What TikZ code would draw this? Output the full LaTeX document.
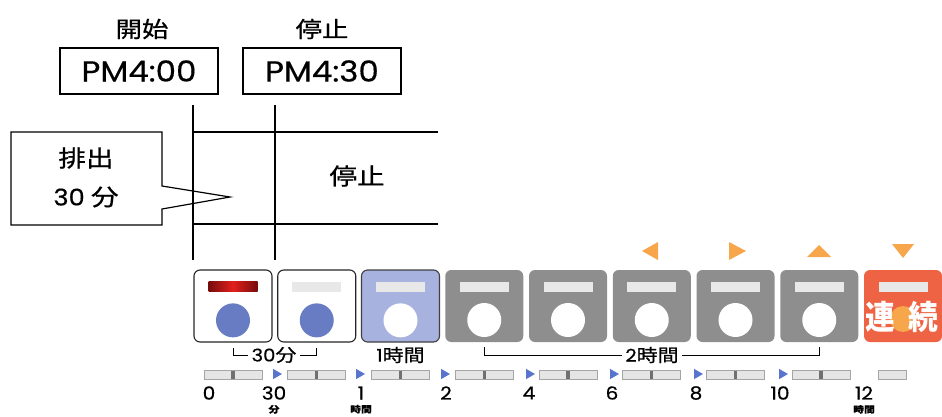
\documentclass[tikz,border=0pt]{standalone}
\usepackage{fontspec}
\setmainfont{Noto Sans CJK JP}[FakeStretch=1.2, FakeBold=0.7]
\newfontfamily\numf{Poppins}[FakeStretch=1.12, FakeBold=0.5]
\newfontfamily\jpnarrow{Noto Sans CJK JP}[FakeStretch=0.9]
\usetikzlibrary{positioning, calc, shapes.geometric}

\definecolor{btngray}{RGB}{142,142,142}
\definecolor{btnlav}{RGB}{168,178,222}
\definecolor{btnred}{RGB}{239,99,69}
\definecolor{dotblue}{RGB}{104,124,196}
\definecolor{lamplight}{RGB}{232,232,232}
\definecolor{lampred}{RGB}{226,32,28}
\definecolor{lampdark}{RGB}{118,12,12}
\definecolor{tipblue}{RGB}{88,116,204}
\definecolor{tiporange}{RGB}{247,166,76}
\definecolor{railfill}{RGB}{229,229,229}
\definecolor{railedge}{RGB}{165,165,165}
\definecolor{railtick}{RGB}{112,112,112}

\begin{document}
\begin{tikzpicture}[x=1pt, y=-1pt,
  %% Text styles
  head/.style ={inner sep=1pt, font=\fontsize{22}{25}\selectfont},
  tbox/.style ={draw, line width=1.2pt, minimum width=158pt, minimum height=46pt,
                inner sep=0pt, font=\numf\fontsize{29}{32}\selectfont},
  ctext/.style={inner sep=1pt, font=\fontsize{23}{27}\selectfont},
  glbl/.style ={inner sep=3pt, font=\fontsize{17.5}{20}\selectfont},
  num/.style  ={inner sep=0pt, font=\numf\fontsize{18}{20}\selectfont},
  unit/.style ={inner sep=0pt, font=\bfseries\fontsize{9}{10}\selectfont},
  %% Buttons
  btn/.style  ={rounded corners=6pt, minimum width=78pt, minimum height=72pt, inner sep=0pt},
  wbtn/.style ={btn, draw=black!85, line width=1.1pt, fill=white},
  lbtn/.style ={btn, draw=black!75, line width=1.1pt, fill=btnlav},
  gbtn/.style ={btn, fill=btngray},
  rbtn/.style ={btn, fill=btnred},
  lamp/.style ={minimum width=49pt, minimum height=10pt, inner sep=0pt, fill=lamplight},
  dot/.style  ={circle, minimum size=34pt, inner sep=0pt, fill=white},
  %% Timeline
  rail/.style ={draw=railedge, line width=0.6pt, fill=railfill, minimum width=58pt,
                minimum height=9pt, inner sep=0pt},
  slide/.style={rail, path picture={\fill[railtick]
                ([xshift=-1.6pt]path picture bounding box.north) rectangle
                ([xshift=1.6pt]path picture bounding box.south);}},
  btri/.style ={regular polygon, regular polygon sides=3, shape border rotate=-90,
                minimum size=12pt, inner sep=0pt, fill=tipblue},
  %% Lines
  mline/.style={line width=1.2pt},
  bline/.style={line width=1pt}
]
\useasboundingbox (0,0) rectangle (942,416);

%% ── TOP: START / STOP TIMES ─────────────────────────────────────
\node[head] (hstart) at (142,29) {開始};
\node[head] (hstop)  at (322,29) {停止};
\node[tbox] (t400)   at (139,71) {PM4:00};
\node[tbox] (t430)   at (322,71) {PM4:30};

%% time markers and the run strip
\coordinate (m1a) at (193,105);  \coordinate (m1b) at (193,260);
\coordinate (m2a) at (275,105);  \coordinate (m2b) at (275,260);
\coordinate (r1a) at (193,132);  \coordinate (r1b) at (438,132);
\coordinate (r2a) at (193,224);  \coordinate (r2b) at (438,224);
\draw[mline] (m1a) -- (m1b);
\draw[mline] (m2a) -- (m2b);
\draw[mline] (r1a) -- (r1b);
\draw[mline] (r2a) -- (r2b);
\node[ctext] (stop) at (357,176) {停止};

%% callout
\draw[mline] (11,132) -- (162,132) -- (162,186) -- (230,197) -- (162,209)
    -- (162,225) -- (11,225) -- cycle;
\node[ctext] (cout1) at (86,158) {排出};
\node[ctext] (cout2) at (86,197) {{\numf 30} 分};

%% ── BUTTON ROW ──────────────────────────────────────────────────
\node[wbtn] (b1) at (233,306)    {};
\node[wbtn] (b2) at (316.75,306) {};
\node[lbtn] (b3) at (400.5,306)  {};
\node[gbtn] (b4) at (484.25,306) {};
\node[gbtn] (b5) at (568,306)    {};
\node[gbtn] (b6) at (651.75,306) {};
\node[gbtn] (b7) at (735.5,306)  {};
\node[gbtn] (b8) at (819.25,306) {};
\node[rbtn] (b9) at (903,306)    {};

%% lamps
\node[lamp, below=12pt of b1.north, left color=lampdark, right color=lampdark,
      middle color=lampred] (p1) {};
\node[lamp, below=12pt of b2.north] (p2) {};
\node[lamp, below=12pt of b3.north] (p3) {};
\node[lamp, below=12pt of b4.north] (p4) {};
\node[lamp, below=12pt of b5.north] (p5) {};
\node[lamp, below=12pt of b6.north] (p6) {};
\node[lamp, below=12pt of b7.north] (p7) {};
\node[lamp, below=12pt of b8.north] (p8) {};
\node[lamp, below=12pt of b9.north] (p9) {};

%% dots
\node[dot, above=5pt of b1.south, fill=dotblue] (d1) {};
\node[dot, above=5pt of b2.south, fill=dotblue] (d2) {};
\node[dot, above=5pt of b3.south] (d3) {};
\node[dot, above=5pt of b4.south] (d4) {};
\node[dot, above=5pt of b5.south] (d5) {};
\node[dot, above=5pt of b6.south] (d6) {};
\node[dot, above=5pt of b7.south] (d7) {};
\node[dot, above=5pt of b8.south] (d8) {};
\node[dot, minimum size=26pt, fill=tiporange] (d9) at (903,319) {};
\node[text=white, inner sep=0pt, font=\jpnarrow\bfseries\fontsize{33}{35}\selectfont]
    (cont) at (902,317) {連\hspace{13pt}続};

%% direction marks
\fill[tiporange] (642,251) -- (658,242) -- (658,260) -- cycle;
\fill[tiporange] (729,242) -- (746,251) -- (729,260) -- cycle;
\fill[tiporange] (807,257) -- (819,245) -- (831,257) -- cycle;
\fill[tiporange] (892,244) -- (914,244) -- (903,258) -- cycle;

%% ── DURATION LABELS ─────────────────────────────────────────────
\node[glbl] (l30) at (274,355)   {{\numf 30}分};
\node[glbl] (l1h) at (400.5,355) {{\numf 1}時間};
\node[glbl] (l2h) at (652,355)   {{\numf 2}時間};

\draw[bline] (b1.south) ++(0,5) |- (l30.west);
\draw[bline] (l30.east) -| ($(b2.south)+(0,5)$);
\draw[bline] (b4.south) ++(0,5) |- (l2h.west);
\draw[bline] (l2h.east) -| ($(b8.south)+(0,5)$);

%% ── TIMELINE ────────────────────────────────────────────────────
\node[slide] (s1) at (233,375)    {};
\node[slide] (s2) at (316.75,375) {};
\node[slide] (s3) at (400.5,375)  {};
\node[slide] (s4) at (484.25,375) {};
\node[slide] (s5) at (568,375)    {};
\node[slide] (s6) at (651.75,375) {};
\node[slide] (s7) at (735.5,375)  {};
\node[slide] (s8) at (821,375)    {};
\node[rail, minimum width=28pt] (s9) at (892,375) {};

\node[btri] (a1) at (276,374) {};
\node[btri] (a2) at (359,374) {};
\node[btri] (a3) at (444,374) {};
\node[btri] (a4) at (529,374) {};
\node[btri] (a5) at (613,374) {};
\node[btri] (a6) at (697,374) {};
\node[btri] (a7) at (782,374) {};

\node[num] (n0)  at (209,393) {0};
\node[num] (n30) at (274,393) {30};
\node[num] (n1)  at (361,393) {1};
\node[num] (n2)  at (446,393) {2};
\node[num] (n4)  at (529,393) {4};
\node[num] (n6)  at (612,393) {6};
\node[num] (n8)  at (696,393) {8};
\node[num] (n10) at (780,393) {10};
\node[num] (n12) at (864,393) {12};

\node[unit, below=5pt of n30] (u30) {分};
\node[unit, below=5pt of n1]  (u1)  {時間};
\node[unit, below=5pt of n12] (u12) {時間};

\end{tikzpicture}
\end{document}
